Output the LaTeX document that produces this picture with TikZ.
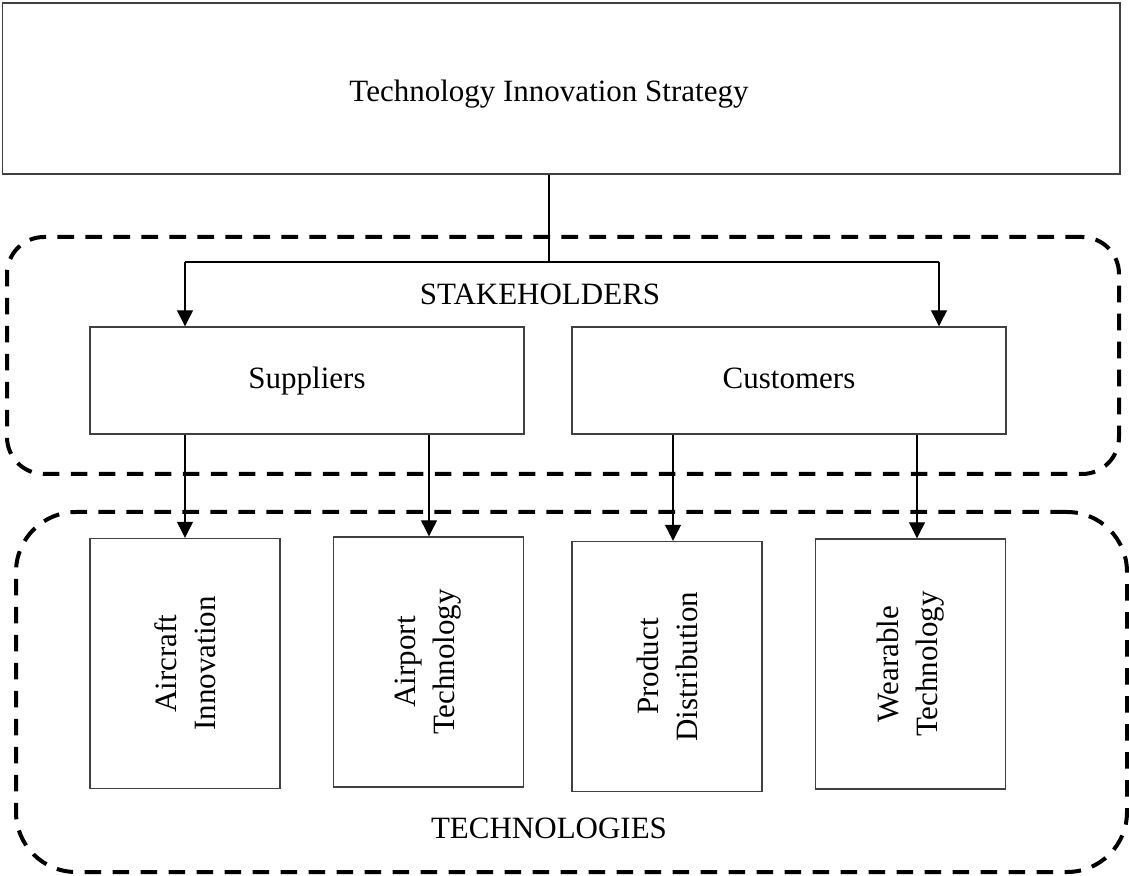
\documentclass[tikz,border=0pt]{standalone}
\usepackage{fontspec}
\setmainfont{Liberation Serif}
\usetikzlibrary{arrows.meta}

\begin{document}
\begin{tikzpicture}[x=0.5pt, y=-0.5pt,
      box/.style={draw=black!75, line width=0.7pt, rectangle, inner sep=0pt},
      block/.style={box, minimum width=217pt, minimum height=53.5pt, text height=1.0em, text depth=0.22em, font=\fontsize{15.5}{19.5}\selectfont},
      techbox/.style={box, minimum width=95pt, minimum height=125pt},
      group/.style={draw, line width=2pt, dash pattern=on 8.3pt off 5.7pt, rounded corners=#1, inner sep=0pt},
      txt/.style={font=\fontsize{15.5}{19.5}\selectfont, inner sep=0pt, align=center},
      arr/.style={-{Triangle[length=8pt, width=8pt]}, line width=0.6pt}]
    \useasboundingbox (0,0) rectangle (1129,876);

    % strategy on top
    \node[box, minimum width=558.75pt, minimum height=85.5pt] (tis) at (561.25,88.5) {};
    \node[txt, anchor=base] (tist) at (549,102) {Technology Innovation Strategy};

    % stakeholders
    \node[group=18.5pt, minimum width=556pt, minimum height=118.5pt] (stk) at (563,355.5) {};
    \node[txt, anchor=base] (stkt) at (540,305) {STAKEHOLDERS};
    \node[block] (sup) at (307,380.5) {Suppliers};
    \node[block] (cus) at (789,380.5) {Customers};

    % technologies
    \node[group=30pt, minimum width=555.5pt, minimum height=180pt] (tec) at (571.5,692) {};
    \node[txt, anchor=base] (tect) at (549,838) {TECHNOLOGIES};
    \node[techbox] (aic) at (185,663.5) {};
    \node[techbox] (apt) at (428.5,662) {};
    \node[techbox] (prd) at (667,666.5) {};
    \node[techbox] (wrt) at (910.5,664) {};
    \node[txt, rotate=90] (aict) at (aic) {Aircraft\\Innovation};
    \node[txt, rotate=90] (aptt) at (apt) {Airport\\Technology};
    \node[txt, rotate=90] (prdt) at (prd) {Product\\Distribution};
    \node[txt, rotate=90] (wrtt) at (wrt) {Wearable\\Technology};

    % connectors
    \coordinate (split) at (549,262);
    \coordinate (sl) at (185,262);
    \coordinate (sr) at (939,262);
    \draw[line width=0.6pt] (tis.south -| tist) -- (split);
    \draw[line width=0.6pt] (sl) -- (sr);
    \draw[arr] (sl) -- (sl |- sup.north);
    \draw[arr] (sr) -- (sr |- cus.north);

    \draw[arr] (aic.north |- sup.south) -- (aic.north);
    \draw[arr] ([xshift=0.25pt]apt.north |- sup.south) -- ([xshift=0.25pt]apt.north);
    \draw[arr] ([xshift=3pt]prd.north |- cus.south) -- ([xshift=3pt]prd.north);
    \draw[arr] ([xshift=3.25pt]wrt.north |- cus.south) -- ([xshift=3.25pt]wrt.north);
  \end{tikzpicture}
\end{document}
